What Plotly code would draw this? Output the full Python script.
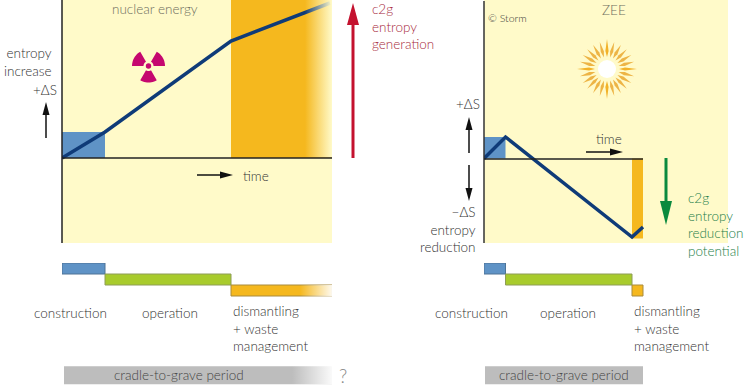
import math
import plotly.graph_objects as go

W, H = 750, 391

# ---- data ----
phases = ["construction", "operation", "dismantling"]
phase_colors = ["#5F93C6", "#A8CB2C", "#F5B81E"]
phase_borders = ["#4E7396", "#8E9C56", "#A98B3C"]
nuclear_phase_start = [0.0, 4.3, 16.9]
nuclear_phase_end = [4.3, 16.9, 27.0]
zee_phase_start = [0.0, 2.15, 14.8]
zee_phase_end = [2.15, 14.8, 15.9]
nuclear_time = [0.0, 4.3, 16.9, 26.8]
nuclear_entropy = [0.0, 2.6, 11.7, 15.5]
zee_time = [0.0, 2.15, 14.8, 15.9]
zee_entropy = [0.0, 2.15, -7.85, -6.85]

BG = "#FFFAC9"
NAVY = "#0F3B78"
RED = "#C4122F"
GREEN = "#0B8A3E"
TXT = "#333333"
FONT = "Lato"


def fx(p):
    return p / W


def fy(p):
    return 1 - p / H


fig = go.Figure()
shapes, ann = [], []


def rect(xr, yr, x0, x1, y0, y1, color):
    shapes.append(dict(type="rect", xref=xr, yref=yr, x0=x0, x1=x1, y0=y0, y1=y1,
                       fillcolor=color, line_width=0, layer="below"))


def pline(x0, y0, x1, y1, color, w):
    shapes.append(dict(type="line", xref="paper", yref="paper", x0=fx(x0), x1=fx(x1),
                       y0=fy(y0), y1=fy(y1), line=dict(color=color, width=w)))


def poly(pts, color):
    d = "M" + " L".join(f"{fx(a):.5f},{fy(b):.5f}" for a, b in pts) + " Z"
    shapes.append(dict(type="path", xref="paper", yref="paper", path=d, fillcolor=color, line_width=0))


def arrow(x0, y0, x1, y1, color, w, hl, hw):
    L = math.hypot(x1 - x0, y1 - y0)
    ux, uy = (x1 - x0) / L, (y1 - y0) / L
    bx, by = x1 - ux * hl, y1 - uy * hl
    pline(x0, y0, bx, by, color, w)
    poly([(x1, y1), (bx - uy * hw / 2, by + ux * hw / 2), (bx + uy * hw / 2, by - ux * hw / 2)], color)


def text(x, y, s, anchor="left", color=TXT, size=13.5):
    ann.append(dict(xref="paper", yref="paper", x=fx(x), y=fy(y), text=s, showarrow=False,
                    xanchor=anchor, yanchor="middle", xshift=0, align=anchor,
                    font=dict(family=FONT, size=size, color=color, weight=300)))


# panel backgrounds and phase areas
rect("x", "y", 0, 27, -8.5, 15.8, BG)
rect("x", "y", nuclear_phase_start[0], nuclear_phase_end[0], 0, nuclear_entropy[1], phase_colors[0])
rect("x", "y", nuclear_phase_start[2], nuclear_phase_end[2], 0, 15.8, phase_colors[2])
rect("x2", "y2", 0, 24.4, -8.45, 15.85, BG)
rect("x2", "y2", zee_phase_start[0], zee_phase_end[0], 0, zee_entropy[1], phase_colors[0])
rect("x2", "y2", zee_phase_start[2], zee_phase_end[2], -8.0, 0, phase_colors[2])

# entropy curves
fig.add_trace(go.Scatter(x=nuclear_time, y=nuclear_entropy, mode="lines", xaxis="x", yaxis="y",
                         line=dict(color=NAVY, width=3.5), showlegend=False, hoverinfo="skip"))
fig.add_trace(go.Scatter(x=zee_time, y=zee_entropy, mode="lines", xaxis="x2", yaxis="y2",
                         line=dict(color=NAVY, width=3.5), showlegend=False, hoverinfo="skip"))

# fade of the open end of the nuclear panel
fig.add_trace(go.Scatter(x=[24.3, 27, 27, 24.3, 24.3], y=[0.05, 0.05, 15.8, 15.8, 0.05], mode="lines",
                         fill="toself", line=dict(width=0), xaxis="x", yaxis="y",
                         fillgradient=dict(type="horizontal",
                                           colorscale=[[0, "rgba(255,250,201,0)"], [1, "rgba(255,250,201,1)"]]),
                         showlegend=False, hoverinfo="skip"))

# phase bars
for axx, axy, starts, ends in [("x", "y3", nuclear_phase_start, nuclear_phase_end),
                               ("x2", "y4", zee_phase_start, zee_phase_end)]:
    fig.add_trace(go.Bar(orientation="h", y=[0.5, 1.5, 2.5], base=starts,
                         x=[e - s for s, e in zip(starts, ends)], width=1,
                         marker=dict(color=phase_colors, line=dict(color=phase_borders, width=1)),
                         xaxis=axx, yaxis=axy, showlegend=False, hoverinfo="skip"))

# cradle-to-grave bars
fig.add_trace(go.Bar(orientation="h", y=[10.2], base=[0.2], x=[26.8], width=1.65,
                     marker=dict(color="#BDBDBD", line_width=0), xaxis="x", yaxis="y3",
                     showlegend=False, hoverinfo="skip"))
fig.add_trace(go.Bar(orientation="h", y=[10.2], base=[0.1], x=[15.8], width=1.65,
                     marker=dict(color="#BDBDBD", line_width=0), xaxis="x2", yaxis="y4",
                     showlegend=False, hoverinfo="skip"))
# fades of the open ends of the lower bars
for y0, y1, x0 in [(2.0, 3.05, 23.8), (9.35, 11.05, 23.0)]:
    fig.add_trace(go.Scatter(x=[x0, 27.1, 27.1, x0, x0], y=[y0, y0, y1, y1, y0], mode="lines",
                             fill="toself", line=dict(width=0), xaxis="x", yaxis="y3",
                             fillgradient=dict(type="horizontal",
                                               colorscale=[[0, "rgba(255,255,255,0)"], [1, "rgba(255,255,255,0.95)"]]),
                             showlegend=False, hoverinfo="skip"))

# axes lines
pline(62, 0, 62, 243, "#222222", 1.5)
pline(62, 158, 332, 158, "#222222", 1.5)
pline(484, 1, 484, 243, "#333333", 1.5)
pline(484, 159, 643, 159, "#222222", 1.5)

# arrows
arrow(353, 158, 353, 3, RED, 3, 22, 12)
arrow(666, 158, 666, 225, GREEN, 3, 24, 12)
arrow(46, 138, 46, 102, "#111111", 1.5, 13, 7)
arrow(469, 153, 469, 117, "#111111", 1.5, 13, 7)
arrow(469, 165, 469, 201, "#111111", 1.5, 13, 7)
arrow(197, 175, 233, 175, "#111111", 1.5, 13, 7)
arrow(586, 152, 623, 152, "#111111", 1.5, 13, 7)

# radiation symbol
cx, cy = 148.5, 66
MAG = "#C5076F"
for a0 in (-60, 60, 180):
    pts = []
    for k in range(13):
        a = math.radians(a0 - 30 + 60 * k / 12)
        pts.append((cx + 16.5 * math.sin(a), cy - 16.5 * math.cos(a)))
    for k in range(13):
        a = math.radians(a0 + 30 - 60 * k / 12)
        pts.append((cx + 5 * math.sin(a), cy - 5 * math.cos(a)))
    poly(pts, MAG)
shapes.append(dict(type="circle", xref="paper", yref="paper", x0=fx(cx - 2.7), x1=fx(cx + 2.7),
                   y0=fy(cy + 2.7), y1=fy(cy - 2.7), fillcolor=MAG, line_width=0))

# sun
sx, sy = 607, 69
for k in range(24):
    a = math.radians(k * 15)
    s, c = math.sin(a), math.cos(a)
    col = "#F2B228" if k % 6 == 0 else "#EDB445"
    r0, r1, rm = 12, (30 if k % 6 == 0 else 28), 18
    hw = 1.6
    poly([(sx + s * r0, sy - c * r0),
          (sx + s * rm - c * hw, sy - c * rm - s * hw),
          (sx + s * r1, sy - c * r1),
          (sx + s * rm + c * hw, sy - c * rm + s * hw)], col)
shapes.append(dict(type="circle", xref="paper", yref="paper", x0=fx(sx - 9), x1=fx(sx + 9),
                   y0=fy(sy + 9), y1=fy(sy - 9), fillcolor="#FFFFFF", line_width=0))

# texts
text(155, 9, "nuclear energy", "center", "#6E6E5E")
text(54, 62, "entropy<br>increase", "right")
text(59, 90, "+ΔS", "right")
text(241, 176, "time")
text(370, 27, "c2g<br>entropy<br>generation", "left", "#A82A3C")
text(486, 18, "© Storm", "left", TXT, 10.5)
text(614, 10, "ZEE", "center", "#6E6E5E")
text(482, 104, "+ΔS", "right")
text(478, 229, "−ΔS<br>entropy<br>reduction", "right")
text(609, 139, "time", "center")
text(686, 224, "c2g<br>entropy<br>reduction<br>potential", "left", "#1E8049")

for dx in (0, 401):
    text(70 + dx, 313, phases[0], "center")
    text((170 if dx == 0 else 568), 313, phases[1], "center")
    text(231 + dx, 328, "dismantling<br>+ waste<br>management")
text(179, 375, "cradle-to-grave period", "center", "#444444")
text(564, 375, "cradle-to-grave period", "center", "#444444")
text(343, 375, "?", "center", "#888888", 19)


def ax(**kw):
    return dict(visible=False, showgrid=False, zeroline=False, fixedrange=True, **kw)


fig.update_layout(
    width=W, height=H, margin=dict(l=0, r=0, t=0, b=0, pad=0),
    paper_bgcolor="white", plot_bgcolor="rgba(0,0,0,0)", showlegend=False,
    barmode="overlay", shapes=shapes, annotations=ann,
    xaxis=ax(domain=[fx(62), fx(332)], range=[0, 27], anchor="y"),
    xaxis2=ax(domain=[fx(484), fx(728)], range=[0, 24.4], anchor="y2"),
    yaxis=ax(domain=[fy(243), fy(0)], range=[-8.5, 15.8], anchor="x"),
    yaxis2=ax(domain=[fy(243), fy(0)], range=[-8.45, 15.85], anchor="x2"),
    yaxis3=ax(domain=[fy(386), fy(263)], range=[11.18, 0], anchor="x"),
    yaxis4=ax(domain=[fy(386), fy(263)], range=[11.18, 0], anchor="x2"),
)

fig.write_html("out.html", config=dict(displayModeBar=False),
               post_script="document.body.style.margin='0';document.body.style.overflow='hidden';")
